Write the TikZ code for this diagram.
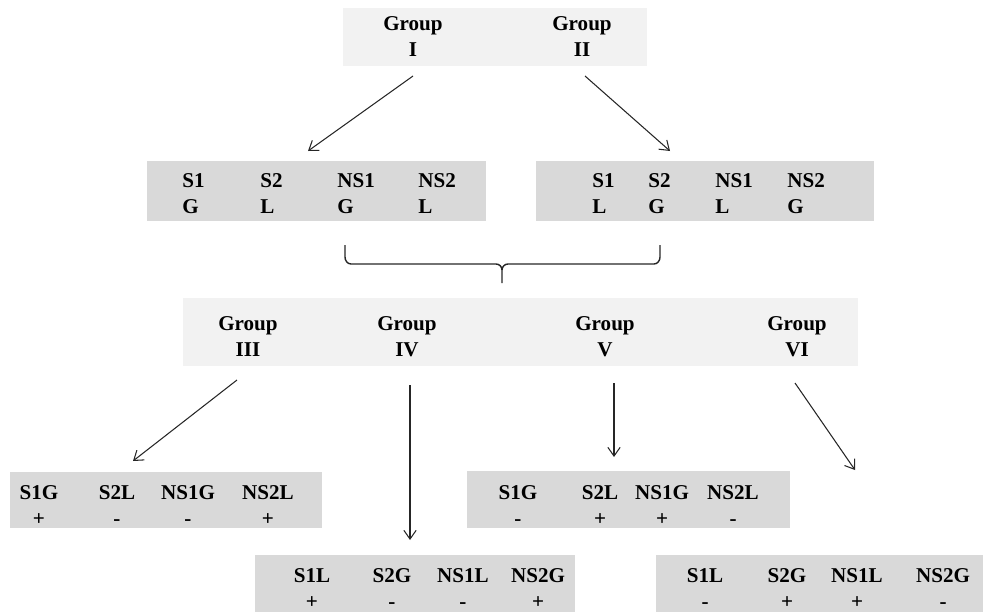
\documentclass[tikz,border=0pt]{standalone}
\usepackage{fontspec}
\setmainfont{Liberation Serif}
\usetikzlibrary{arrows.meta,fit}
\definecolor{grigiochiaro}{HTML}{F2F2F2}
\definecolor{grigioscuro}{HTML}{D9D9D9}
\begin{document}
\begin{tikzpicture}[x=0.02cm,y=-0.02cm,>={Straight Barb[length=5pt,width=7pt]},
	boxchiaro/.style={fill=grigiochiaro, draw=none, inner sep=0pt},
	boxscuro/.style={fill=grigioscuro, draw=none, inner sep=0pt},
	voce/.style={font=\bfseries\fontsize{12}{15}\selectfont, inner sep=0pt, align=left, anchor=north west},
	gruppo/.style={font=\bfseries\fontsize{12}{15}\selectfont, inner sep=0pt, align=center, anchor=north},
	freccia/.style={->, line width=0.6pt, black!85},
	graffa/.style={line width=0.8pt, black!85},
	]
	\useasboundingbox (0,0) rectangle (983,612);
	
	% ── Gruppi I e II ──
	\node[boxchiaro, fit={(343,8) (647,66)}] (top) {};
	\node[gruppo] (gI)  at (413,16) {Group\\I};
	\node[gruppo] (gII) at (582,16) {Group\\II};
	
	% ── Secondo livello (colonne allineate a sinistra) ──
	\node[boxscuro, fit={(147,161) (486,221)}] (bA) {};
	\node[boxscuro, fit={(536,161) (874,221)}] (bB) {};
	\foreach \x/\t [count=\i] in {182/{S1\\G},260/{S2\\L},337/{NS1\\G},418/{NS2\\L}}
		\node[voce] (a\i) at (\x,173) {\t};
	\foreach \x/\t [count=\i] in {592/{S1\\L},648/{S2\\G},715/{NS1\\L},787/{NS2\\G}}
		\node[voce] (b\i) at (\x,173) {\t};
	
	% ── Graffa ──
	\draw[graffa] (345,245) -- (345,257) to[out=-90,in=180] (351,264) -- (496,264)
		to[out=0,in=90] (502,270) -- (502,283);
	\draw[graffa] (660,245) -- (660,257) to[out=-90,in=0] (654,264) -- (508,264)
		to[out=180,in=90] (502,270);
	
	% ── Gruppi III-VI ──
	\node[boxchiaro, fit={(183,298) (858,366)}] (mid) {};
	\foreach \x/\n in {248/III,407/IV,605/V,797/VI}
		\node[gruppo] (g\n) at (\x,316) {Group\\\n};
	
	% ── Ultimo livello ──
	\node[boxscuro, fit={(10,472) (322,528)}]  (cIII) {};
	\node[boxscuro, fit={(467,471) (790,528)}] (cV) {};
	\node[boxscuro, fit={(255,555) (575,612)}] (cIV) {};
	\node[boxscuro, fit={(656,555) (983,612)}] (cVI) {};
	\foreach \x/\t [count=\i] in {39/{S1G\\+},117/{S2L\\-},188/{NS1G\\-},268/{NS2L\\+}}
		\node[gruppo] (d\i) at (\x,485) {\t};
	\foreach \x/\t [count=\i] in {518/{S1G\\-},600/{S2L\\+},662/{NS1G\\+},733/{NS2L\\-}}
		\node[gruppo] (e\i) at (\x,485) {\t};
	\foreach \x/\t [count=\i] in {312/{S1L\\+},392/{S2G\\-},463/{NS1L\\-},538/{NS2G\\+}}
		\node[gruppo] (f\i) at (\x,568) {\t};
	\foreach \x/\t [count=\i] in {705/{S1L\\-},787/{S2G\\+},857/{NS1L\\+},943/{NS2G\\-}}
		\node[gruppo] (h\i) at (\x,568) {\t};
	
	% ── Frecce ──
	\coordinate (p1) at (413,76);  \coordinate (q1) at (308,151);
	\coordinate (p2) at (585,76);  \coordinate (q2) at (670,151);
	\coordinate (p3) at (237,380); \coordinate (q3) at (133,461);
	\coordinate (p4) at (410,385); \coordinate (q4) at (410,540);
	\coordinate (p5) at (614,383); \coordinate (q5) at (614,457);
	\coordinate (p6) at (795,383); \coordinate (q6) at (855,470);
	\foreach \k in {1,...,6}
		\draw[freccia] (p\k) -- (q\k);
	
\end{tikzpicture}
\end{document}
